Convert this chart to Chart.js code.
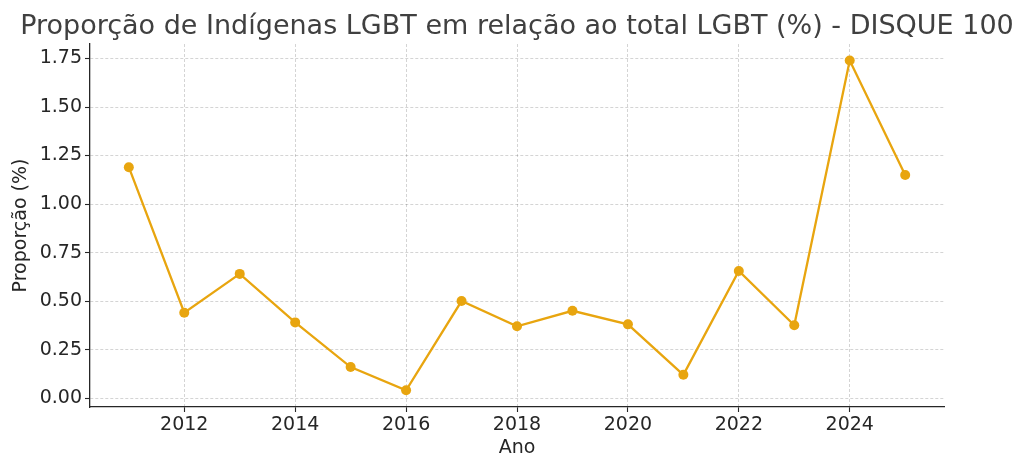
<!DOCTYPE html>
<html>
<head>
<meta charset="utf-8">
<script src="https://cdn.jsdelivr.net/npm/chart.js@4"></script>
<style>
  html, body { margin: 0; padding: 0; background: #fff; }
  #wrap { width: 1024px; height: 472px; }
</style>
</head>
<body>
<div id="wrap"><canvas id="myChart" width="1024" height="472"></canvas></div>
<script>
'use strict'

const anos = [2011, 2012, 2013, 2014, 2015, 2016, 2017, 2018, 2019, 2020, 2021, 2022, 2023, 2024, 2025];
const proporcao = [1.19, 0.44, 0.64, 0.39, 0.16, 0.04, 0.50, 0.37, 0.45, 0.38, 0.12, 0.655, 0.375, 1.74, 1.15];
const xTicks = [2012, 2014, 2016, 2018, 2020, 2022, 2024];
const yTicks = [0, 0.25, 0.5, 0.75, 1.0, 1.25, 1.5, 1.75];

const tituloTexto = 'Proporção de Indígenas LGBT em relação ao total LGBT (%) - DISQUE 100';
const fonte = 'DejaVu Sans';
const laranja = '#e8a50f';
const tinta = '#262626';

const pontos = anos.map(function(ano, i) {
  return { x: ano, y: proporcao[i] };
});

// titulo desenhado a mao, centrado na figura inteira como no matplotlib
const tituloPlugin = {
  id: 'tituloFigura',
  afterDraw: function(chart) {
    const c = chart.ctx;
    c.save();
    c.fillStyle = '#404040';
    c.font = '27px "' + fonte + '"';
    c.textAlign = 'center';
    c.textBaseline = 'alphabetic';
    c.fillText(tituloTexto, 517, 34);
    c.restore();
  }
};

const ctx = document.getElementById('myChart').getContext('2d');

const myChart = new Chart(ctx, {
  type: 'line',
  data: {
    datasets: [{
      label: 'Proporção',
      data: pontos,
      borderColor: laranja,
      backgroundColor: laranja,
      borderWidth: 2.3,
      pointRadius: 5,
      pointBorderWidth: 0,
      pointBackgroundColor: laranja,
      tension: 0
    }]
  },
  plugins: [tituloPlugin],
  options: {
    responsive: false,
    animation: false,
    devicePixelRatio: 1,
    layout: {
      padding: { left: 8, right: 80, top: 44, bottom: 8 }
    },
    plugins: {
      legend: { display: false },
      tooltip: { enabled: false },
      title: { display: false }
    },
    scales: {
      x: {
        type: 'linear',
        min: 2010.3,
        max: 2025.7,
        afterBuildTicks: function(scale) {
          scale.ticks = xTicks.map(function(v) { return { value: v }; });
        },
        afterFit: function(scale) { scale.height = 57; },
        ticks: {
          color: tinta,
          font: { family: fonte, size: 19 },
          padding: 2,
          maxRotation: 0,
          callback: function(v) { return String(v); }
        },
        grid: {
          color: 'rgba(0,0,0,0.17)',
          lineWidth: 1,
          tickColor: tinta,
          tickLength: 5,
          tickWidth: 1.1
        },
        border: { display: true, color: tinta, width: 1.3, dash: [3, 2] },
        title: {
          display: true,
          text: 'Ano',
          color: tinta,
          font: { family: fonte, size: 19 },
          padding: { top: 0, bottom: 5 }
        }
      },
      y: {
        min: -0.046,
        max: 1.825,
        afterBuildTicks: function(scale) {
          scale.ticks = yTicks.map(function(v) { return { value: v }; });
        },
        afterFit: function(scale) { scale.width = 82; },
        ticks: {
          color: tinta,
          font: { family: fonte, size: 19 },
          padding: 3,
          callback: function(v) { return v.toFixed(2); }
        },
        grid: {
          color: 'rgba(0,0,0,0.17)',
          lineWidth: 1,
          tickColor: tinta,
          tickLength: 5,
          tickWidth: 1.1
        },
        border: { display: true, color: tinta, width: 1.3, dash: [3, 2] },
        title: {
          display: true,
          text: 'Proporção (%)',
          color: tinta,
          font: { family: fonte, size: 19 },
          padding: { top: 2, bottom: 0 }
        }
      }
    }
  }
});
</script>
</body>
</html>
